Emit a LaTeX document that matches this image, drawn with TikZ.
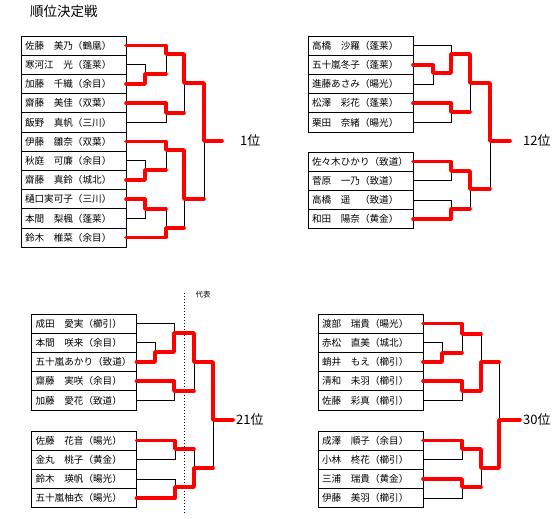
\documentclass[tikz,border=0pt]{standalone}
\usepackage{fontspec}
\setmainfont{Noto Sans CJK JP}
\usepackage{tikz}
\usetikzlibrary{positioning}
\definecolor{WinRed}{RGB}{255,0,0}

\begin{document}
\begin{tikzpicture}[x=1pt, y=-1pt,
    entry/.style={draw, line width=0.8pt, anchor=north west, outer sep=0pt,
      minimum height=19.2pt, text width=97pt, inner xsep=4pt, inner ysep=0pt,
      align=left, font=\fontsize{9.6}{11}\selectfont},
    lose/.style={line width=0.8pt, black},
    win/.style={line width=3.6pt, WinRed, line cap=round, line join=round},
    rank/.style={anchor=west, inner sep=0pt, font=\fontsize{13}{15}\selectfont}]
  \useasboundingbox (0,0) rectangle (560,519);
  \node[inner sep=0pt, font=\fontsize{13.5}{15}\selectfont] (title) at (64,11) {順位決定戦};

  % 1位 block
  \node[entry] (a1) at (21,36) {佐藤　美乃（鶴凰）};
  \node[entry, below=0pt of a1] (a2) {寒河江　光（蓬莱）};
  \node[entry, below=0pt of a2] (a3) {加藤　千織（余目）};
  \node[entry, below=0pt of a3] (a4) {齋藤　美佳（双葉）};
  \node[entry, below=0pt of a4] (a5) {飯野　真帆（三川）};
  \node[entry, below=0pt of a5] (a6) {伊藤　雛奈（双葉）};
  \node[entry, below=0pt of a6] (a7) {秋庭　可廉（余目）};
  \node[entry, below=0pt of a7] (a8) {齋藤　真鈴（城北）};
  \node[entry, below=0pt of a8] (a9) {樋口実可子（三川）};
  \node[entry, below=0pt of a9] (a10) {本間　梨楓（蓬莱）};
  \node[entry, below=0pt of a10] (a11) {鈴木　椎菜（余目）};
  \node[rank] (r1) at (240,141) {1位};

  \draw[lose] (a2.east) -| (145,74);
  \draw[lose] (166,54) -- (166,74);
  \draw[lose] (a5.east) -| (166,113);
  \draw[lose] (184,83) -- (184,113);
  \draw[lose] (a7.east) -| (145,170);
  \draw[lose] (166,150) -- (166,170);
  \draw[lose] (a10.east) -| (145,209);
  \draw[lose] (166,209) -- (166,228);
  \draw[lose] (184,199) -- (184,228);
  \draw[lose] (204,141) -- (204,199);

  \draw[win] (a1.east) -| (166,54) -- (184,54) |- (204,83) |- (222,141);
  \draw[win] (a3.east) -| (145,74) -- (166,74);
  \draw[win] (a4.east) -| (166,113) -- (184,113);
  \draw[win] (a6.east) -| (166,150) -- (184,150) |- (204,199);
  \draw[win] (a8.east) -| (145,170) -- (166,170);
  \draw[win] (a9.east) -| (145,209) -- (166,209);
  \draw[win] (a11.east) -| (166,228) -- (184,228);

  % 12位 block
  \node[entry] (b1) at (308,36) {高橋　沙羅（蓬莱）};
  \node[entry, below=0pt of b1] (b2) {五十嵐冬子（蓬莱）};
  \node[entry, below=0pt of b2] (b3) {進藤あさみ（暘光）};
  \node[entry, below=0pt of b3] (b4) {松澤　彩花（蓬莱）};
  \node[entry, below=0pt of b4] (b5) {栗田　奈緒（暘光）};
  \node[entry] (b6) at (308,152) {佐々木ひかり（致道）};
  \node[entry, below=0pt of b6] (b7) {菅原　一乃（致道）};
  \node[entry, below=0pt of b7] (b8) {高橋　遥　（致道）};
  \node[entry, below=0pt of b8] (b9) {和田　陽奈（黄金）};
  \node[rank] (r12) at (523,141) {12位};

  \draw[lose] (b1.east) -| (451,54);
  \draw[lose] (b3.east) -| (433,73);
  \draw[lose] (b5.east) -| (451,112);
  \draw[lose] (470,83) -- (470,112);
  \draw[lose] (b7.east) -| (451,171);
  \draw[lose] (b8.east) -| (451,209);
  \draw[lose] (470,189) -- (470,209);
  \draw[lose] (490,141) -- (490,189);

  \draw[win] (b2.east) -| (433,73) -- (451,73) |- (470,54) |- (490,83) |- (510,141);
  \draw[win] (b4.east) -| (451,112) -- (470,112);
  \draw[win] (b6.east) -| (451,171) -- (470,171) |- (490,189);
  \draw[win] (b9.east) -| (451,209) -- (470,209);

  % 21位 block
  \draw[lose, dash pattern=on 1pt off 2pt] (184,293) -- (184,513);
  \node[inner sep=0pt, font=\fontsize{7.5}{9}\selectfont] (rep) at (203,295) {代表};
  \node[entry] (c1) at (31.5,314) {成田　愛実（櫛引）};
  \node[entry, below=0pt of c1] (c2) {本間　咲来（余目）};
  \node[entry, below=0pt of c2] (c3) {五十嵐あかり（致道）};
  \node[entry, below=0pt of c3] (c4) {齋藤　実咲（余目）};
  \node[entry, below=0pt of c4] (c5) {加藤　愛花（致道）};
  \node[entry] (c6) at (31.5,431) {佐藤　花音（暘光）};
  \node[entry, below=0pt of c6] (c7) {金丸　桃子（黄金）};
  \node[entry, below=0pt of c7] (c8) {鈴木　瑛帆（暘光）};
  \node[entry, below=0pt of c8] (c9) {五十嵐柚衣（暘光）};
  \node[rank] (r21) at (236,420) {21位};

  \draw[lose] (c1.east) -| (174,333);
  \draw[lose] (c2.east) -| (155,352);
  \draw[lose] (c5.east) -| (174,391);
  \draw[lose] (194,362) -- (194,391);
  \draw[lose] (c7.east) -| (175,449);
  \draw[lose] (c8.east) -| (175,487);
  \draw[lose] (194,449) -- (194,468);
  \draw[lose] (213,420) -- (213,468);

  \draw[win] (c3.east) -| (155,352) -- (174,352) |- (194,333) |- (213,362) |- (233,420);
  \draw[win] (c4.east) -| (174,391) -- (194,391);
  \draw[win] (c6.east) -| (175,449) -- (194,449);
  \draw[win] (c9.east) -| (175,487) -- (194,487) |- (213,468);

  % 30位 block
  \node[entry] (d1) at (318,314) {渡部　瑞貴（暘光）};
  \node[entry, below=0pt of d1] (d2) {赤松　直美（城北）};
  \node[entry, below=0pt of d2] (d3) {蛸井　もえ（櫛引）};
  \node[entry, below=0pt of d3] (d4) {清和　未羽（櫛引）};
  \node[entry, below=0pt of d4] (d5) {佐藤　彩真（櫛引）};
  \node[entry] (d6) at (318,431) {成澤　順子（余目）};
  \node[entry, below=0pt of d6] (d7) {小林　柊花（櫛引）};
  \node[entry, below=0pt of d7] (d8) {三浦　瑞貴（黄金）};
  \node[entry, below=0pt of d8] (d9) {伊藤　美羽（櫛引）};
  \node[rank] (r30) at (523,420) {30位};

  \draw[lose] (d2.east) -| (442,353);
  \draw[lose] (462,334) -- (462,353);
  \draw[lose] (d5.east) -| (462,391);
  \draw[lose] (481,334) -- (481,362);
  \draw[lose] (499,362) -- (499,420);
  \draw[lose] (d7.east) -| (462,449);
  \draw[lose] (d9.east) -| (462,487);
  \draw[lose] (481,468) -- (481,487);

  \draw[win] (d1.east) -| (462,334) -- (481,334);
  \draw[win] (d3.east) -| (442,353) -- (462,353);
  \draw[win] (d4.east) -| (462,391) -- (481,391) |- (499,362);
  \draw[win] (d6.east) -| (462,449) -- (481,449) |- (499,468) |- (520,420);
  \draw[win] (d8.east) -| (462,487) -- (481,487);
\end{tikzpicture}
\end{document}
